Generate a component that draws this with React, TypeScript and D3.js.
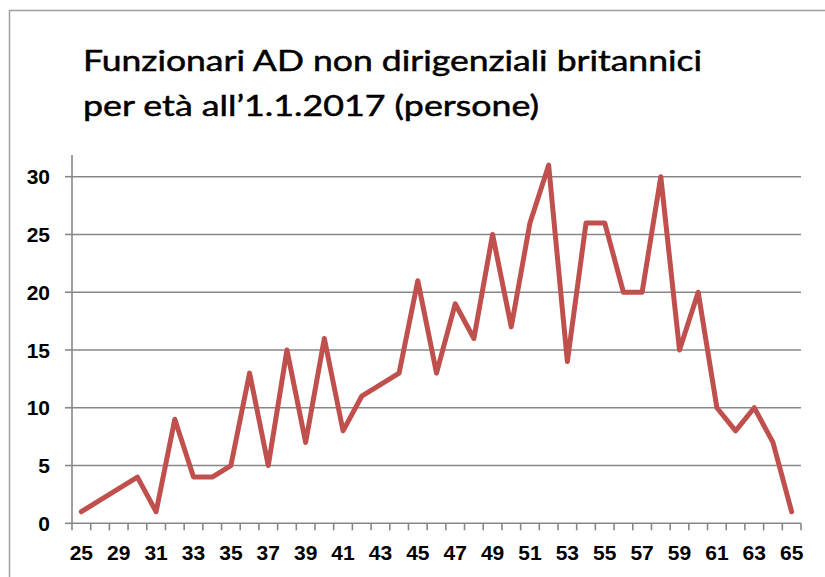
import React, { useRef, useEffect } from "react";
import * as d3 from "d3";

const ages = [25, 28, 29, 30, 31, 32, 33, 34, 35, 36, 37, 38, 39, 40, 41, 42, 43, 44, 45, 46, 47, 48, 49, 50, 51, 52, 53, 54, 55, 56, 57, 58, 59, 60, 61, 62, 63, 64, 65];
const persons = [1, 2, 3, 4, 1, 9, 4, 4, 5, 13, 5, 15, 7, 16, 8, 11, 12, 13, 21, 13, 19, 16, 25, 17, 26, 31, 14, 26, 26, 20, 20, 30, 15, 20, 10, 8, 10, 7, 1];
const yTicks = [0, 5, 10, 15, 20, 25, 30];
const titleLines = ["Funzionari AD non dirigenziali britannici", "per età all\u20191.1.2017 (persone)"];

function App() {
  const svgRef = useRef(null);

  useEffect(() => {
    const width = 825;
    const height = 577;
    const svg = d3.select(svgRef.current);
    svg.selectAll("*").remove();
    svg.attr("width", width).attr("height", height);

    const left = 72;
    const right = 801;
    const bottom = 523.3;

    const xScale = d3.scaleBand<number>().domain(ages).range([left, right]).padding(0);
    const yScale = d3.scaleLinear().domain([0, 30]).range([bottom, 176.7]);
    const grid = "#878787";

    // outer frame
    svg.append("rect")
      .attr("x", 9.5).attr("y", 10.5)
      .attr("width", 830).attr("height", 580)
      .attr("fill", "none").attr("stroke", "#a0a0a0").attr("stroke-width", 1.5);

    // title
    const title = svg.append("g")
      .style("font-family", "Lato, 'Open Sans', sans-serif")
      .style("font-size", "29px")
      .attr("fill", "#000")
      .attr("stroke", "#000")
      .attr("stroke-width", 0.5);
    title.append("text").attr("x", 83).attr("y", 71)
      .attr("textLength", 619).attr("lengthAdjust", "spacingAndGlyphs")
      .text(titleLines[0]);
    title.append("text").attr("x", 83).attr("y", 116)
      .attr("textLength", 456).attr("lengthAdjust", "spacingAndGlyphs")
      .text(titleLines[1]);

    // gridlines + y ticks
    svg.append("g").selectAll("line")
      .data(yTicks.filter(d => d > 0))
      .enter().append("line")
      .attr("x1", left).attr("x2", right)
      .attr("y1", d => yScale(d)).attr("y2", d => yScale(d))
      .attr("stroke", grid).attr("stroke-width", 1.6);

    svg.append("g").selectAll("line")
      .data(yTicks)
      .enter().append("line")
      .attr("x1", left - 7).attr("x2", left)
      .attr("y1", d => yScale(d)).attr("y2", d => yScale(d))
      .attr("stroke", grid).attr("stroke-width", 1.6);

    // axes lines
    svg.append("line")
      .attr("x1", left).attr("x2", left).attr("y1", 155).attr("y2", bottom)
      .attr("stroke", grid).attr("stroke-width", 1.6);
    svg.append("line")
      .attr("x1", left).attr("x2", right).attr("y1", bottom).attr("y2", bottom)
      .attr("stroke", grid).attr("stroke-width", 1.6);

    // x ticks at category boundaries
    const bounds = ages.map(a => xScale(a) as number).concat([right]);
    svg.append("g").selectAll("line")
      .data(bounds)
      .enter().append("line")
      .attr("x1", d => d).attr("x2", d => d)
      .attr("y1", bottom).attr("y2", bottom + 7)
      .attr("stroke", grid).attr("stroke-width", 1.6);

    const labelFont = "'Liberation Sans Narrow', 'Liberation Sans', Arial, sans-serif";

    // y labels
    svg.append("g").selectAll("text")
      .data(yTicks)
      .enter().append("text")
      .attr("x", 50).attr("y", d => yScale(d))
      .attr("dy", "0.36em")
      .attr("text-anchor", "end")
      .style("font-family", labelFont)
      .style("font-size", "21px")
      .style("font-weight", "bold")
      .text(d => d);

    // x labels, every other age
    const cx = (a: number) => (xScale(a) as number) + xScale.bandwidth() / 2;
    svg.append("g").selectAll("text")
      .data(ages.filter((_, i) => i % 2 === 0))
      .enter().append("text")
      .attr("x", d => cx(d)).attr("y", 552)
      .attr("dy", "0.36em")
      .attr("text-anchor", "middle")
      .style("font-family", labelFont)
      .style("font-size", "21px")
      .style("font-weight", "bold")
      .text(d => d);

    // line
    const line = d3.line<number>()
      .x((_, i) => cx(ages[i]))
      .y(d => yScale(d));
    svg.append("path")
      .datum(persons)
      .attr("d", line)
      .attr("fill", "none")
      .attr("stroke", "#C0504D")
      .attr("stroke-width", 5)
      .attr("stroke-linejoin", "round")
      .attr("stroke-linecap", "round");
  }, []);

  return (
    <div style={{ position: "absolute", left: 0, top: 0 }}>
      <svg ref={svgRef}></svg>
    </div>
  );
}

export default App;
